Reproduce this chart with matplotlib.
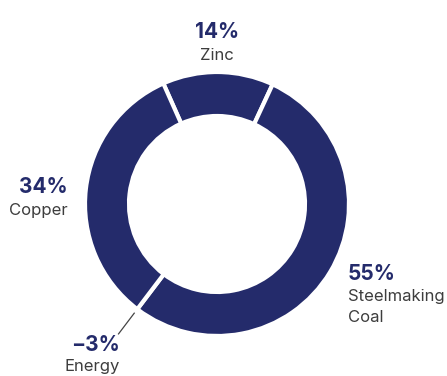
import numpy as np
import matplotlib
matplotlib.use("Agg")
import matplotlib.pyplot as plt

# segment shares (%), clockwise from the top
segments = ["Zinc", "Steelmaking\nCoal", "Copper"]
shares = [14, 55, 34]
energy_label = "Energy"
energy_share = -3

NAVY = "#242b6b"
GREY = "#3d3d3d"
W, H = 447, 376


def pct(v):
    return f"\u2212{abs(v)}%" if v < 0 else f"{v}%"


def main():
    plt.rcParams["font.family"] = ["Inter", "DejaVu Sans"]
    fig = plt.figure(figsize=(W / 100, H / 100), dpi=100)
    ax = fig.add_axes([0, 0, 1, 1])

    cx, cy = 217, H - 204
    radius = 132
    start = 114
    ax.pie(shares, center=(cx, cy), radius=radius, startangle=start,
           counterclock=False, colors=[NAVY] * len(shares),
           wedgeprops=dict(width=44, edgecolor="white", linewidth=3),
           frame=True)
    ax.set_xlim(0, W)
    ax.set_ylim(0, H)
    ax.set_aspect("equal")
    ax.axis("off")

    # energy sits on the boundary between coal and copper
    total = sum(shares)
    ang = np.deg2rad(start - 360 * (shares[0] + shares[1]) / total)
    r0, r1 = 137, 163
    ax.plot([cx + r0 * np.cos(ang), cx + r1 * np.cos(ang)],
            [cy + r0 * np.sin(ang), cy + r1 * np.sin(ang)],
            color="#444444", lw=0.9)

    big = dict(fontsize=15, fontweight="bold", color=NAVY, va="baseline")
    small = dict(fontsize=12, color=GREY, va="baseline")

    # zinc on top
    ax.text(217, H - 38, pct(shares[0]), ha="center", **big)
    ax.text(217, H - 60, segments[0], ha="center", **small)
    # steelmaking coal on the right
    ax.text(348, H - 280, pct(shares[1]), ha="left", **big)
    ax.text(348, H - 301.5, segments[1].split("\n")[0], ha="left", **small)
    ax.text(348, H - 322.5, segments[1].split("\n")[1], ha="left", **small)
    # copper on the left
    ax.text(68, H - 193, pct(shares[2]), ha="right", **big)
    ax.text(68, H - 215, segments[2], ha="right", **small)
    # energy at the bottom left
    ax.text(120, H - 351, pct(energy_share), ha="right", **big)
    ax.text(120, H - 371, energy_label, ha="right", **small)

    fig.savefig("out.png", dpi=100)


if __name__ == "__main__":
    main()
